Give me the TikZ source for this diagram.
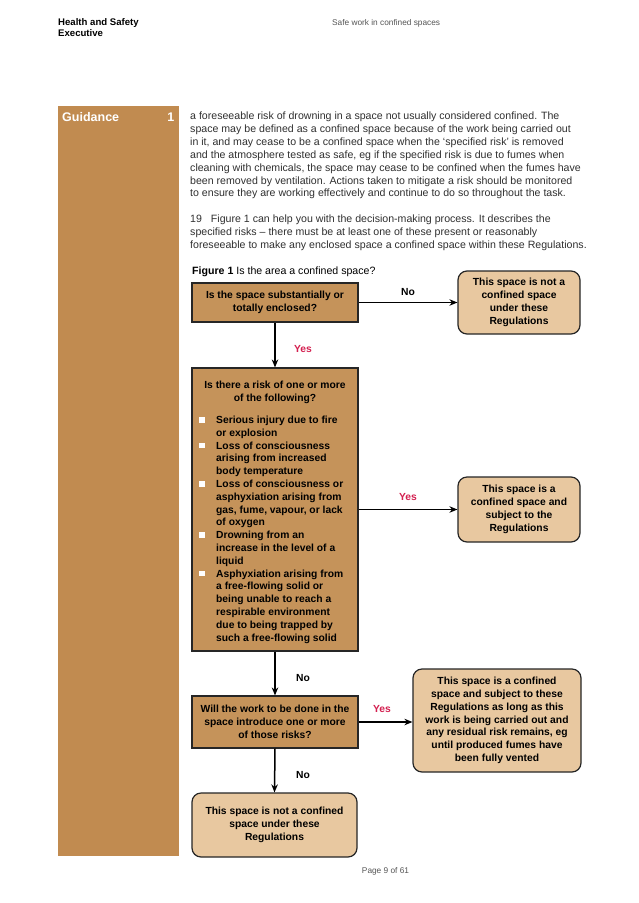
\documentclass[tikz,border=0pt]{standalone}
\usepackage{fontspec}
\setmainfont{Liberation Sans}
\usetikzlibrary{arrows.meta}
\definecolor{side}{HTML}{C18B50}
\definecolor{darkbox}{HTML}{C5935A}
\definecolor{lightbox}{HTML}{E8C8A0}
\definecolor{yesred}{HTML}{D42050}
\definecolor{bodytext}{HTML}{303030}
\definecolor{headgray}{HTML}{555555}
\definecolor{edge}{HTML}{262626}
\begin{document}
\begin{tikzpicture}[x=1pt,y=-1pt,
  qbox/.style={draw=edge, line width=1.2pt, fill=darkbox, inner sep=0pt, align=center,
    font=\fontsize{10.3}{12.8}\selectfont\bfseries},
  rbox/.style={qbox, fill=lightbox, rounded corners=9pt},
  flow/.style={-{Stealth[length=8pt,width=6.5pt]}, line width=1.5pt},
  yeslab/.style={text=yesred, inner sep=0pt, font=\fontsize{10.3}{12}\selectfont\bfseries},
  nolab/.style={inner sep=0pt, font=\fontsize{10.3}{12}\selectfont\bfseries},
  body/.style={anchor=base west, inner sep=0pt, text=bodytext, font=\fontsize{10.6}{12.9}\selectfont},
  item/.style={anchor=base west, inner sep=0pt, font=\fontsize{10.3}{12.8}\selectfont\bfseries},
  bul/.style={fill=white, minimum size=5.5pt, inner sep=0pt},
  small/.style={inner sep=0pt, text=headgray, font=\fontsize{8.3}{10}\selectfont},
]
\useasboundingbox (0,0) rectangle (638,903);
\fill[white] (0,0) rectangle (638,903);

% header
\node[anchor=base west, inner sep=0pt, font=\fontsize{9.6}{11}\selectfont\bfseries] (h1) at (58,25.5) {Health and Safety};
\node[anchor=base west, inner sep=0pt, font=\fontsize{9.6}{11}\selectfont\bfseries] (h2) at (58,36.5) {Executive};
\node[small, anchor=base west] (h3) at (332,25) {Safe work in confined spaces};

% sidebar
\node[fill=side, minimum width=121pt, minimum height=750pt, inner sep=0pt, anchor=north west] (sidebar) at (58,106) {};
\node[anchor=base west, inner sep=0pt, text=white, font=\fontsize{12.5}{14}\selectfont\bfseries] (guid) at (62,121.5) {Guidance};
\node[anchor=base east, inner sep=0pt, text=white, font=\fontsize{12.5}{14}\selectfont\bfseries] (gnum) at (174.5,121.5) {1};

% body text
\node[body] (pa1) at (190,119.5) {a foreseeable risk of drowning in a space not usually considered confined. The};
\node[body] (pa2) at (190,132.4) {space may be defined as a confined space because of the work being carried out};
\node[body] (pa3) at (190,145.3) {in it, and may cease to be a confined space when the ‘specified risk’ is removed};
\node[body] (pa4) at (190,158.2) {and the atmosphere tested as safe, eg if the specified risk is due to fumes when};
\node[body] (pa5) at (190,171.1) {cleaning with chemicals, the space may cease to be confined when the fumes have};
\node[body] (pa6) at (190,184.0) {been removed by ventilation. Actions taken to mitigate a risk should be monitored};
\node[body] (pa7) at (190,196.9) {to ensure they are working effectively and continue to do so throughout the task.};
\node[body] (pb1) at (190,222.7) {19\hspace{9pt}Figure 1 can help you with the decision-making process. It describes the};
\node[body] (pb2) at (190,235.6) {specified risks – there must be at least one of these present or reasonably};
\node[body] (pb3) at (190,248.5) {foreseeable to make any enclosed space a confined space within these Regulations.};
\node[body, text=black] (cap) at (192,274.3) {\textbf{Figure 1} Is the area a confined space?};

% flowchart boxes
\node[qbox, minimum width=166pt, minimum height=39pt] (b1) at (275,302.5) {Is the space substantially or\\totally enclosed?};
\node[rbox, minimum width=122pt, minimum height=63pt] (b2) at (519,302.5) {This space is not a\\confined space\\under these\\Regulations};
\node[qbox, minimum width=166pt, minimum height=283pt] (b3) at (275,509.5) {};
\node[rbox, minimum width=122pt, minimum height=65pt] (b4) at (519,509.5) {This space is a\\confined space and\\subject to the\\Regulations};
\node[qbox, minimum width=166pt, minimum height=52pt] (b5) at (275,722) {Will the work to be done in the\\space introduce one or more\\of those risks?};
\node[rbox, minimum width=168pt, minimum height=103pt] (b6) at (497,720.5) {This space is a confined\\space and subject to these\\Regulations as long as this\\work is being carried out and\\any residual risk remains, eg\\until produced fumes have\\been fully vented};
\node[rbox, minimum width=165pt, minimum height=64pt] (b7) at (274.5,825) {This space is not a confined\\space under these\\Regulations};

% contents of box 3
\node[item, anchor=base] (q1) at (275,388.5) {Is there a risk of one or more};
\node[item, anchor=base] (q2) at (275,401.3) {of the following?};
\foreach \t [count=\i] in {
  {Serious injury due to fire},
  {or explosion},
  {Loss of consciousness},
  {arising from increased},
  {body temperature},
  {Loss of consciousness or},
  {asphyxiation arising from},
  {gas, fume, vapour, or lack},
  {of oxygen},
  {Drowning from an},
  {increase in the level of a},
  {liquid},
  {Asphyxiation arising from},
  {a free-flowing solid or},
  {being unable to reach a},
  {respirable environment},
  {due to being trapped by},
  {such a free-flowing solid}}
  \node[item] (li\i) at (216,{423.5+(\i-1)*12.8}) {\t};
\foreach \i in {1,3,6,10,13}
  \node[bul] (bu\i) at (202,{420+(\i-1)*12.8}) {};

% connectors
\draw[flow] (b1.east) -- (b2.west);
\draw[flow] (b1.south) -- (b3.north);
\draw[flow] (b3.east) -- (b4.west);
\draw[flow] (b3.south) -- (b5.north);
\draw[flow] (b5.east) -- (b5.east -| b6.west);
\draw[flow] (b5.south) -- (b7.north);

% labels
\node[nolab] (n1) at (408,292) {No};
\node[yeslab] (y1) at (303,349) {Yes};
\node[yeslab] (y2) at (408,497) {Yes};
\node[nolab] (n2) at (303,678) {No};
\node[yeslab] (y3) at (382,709) {Yes};
\node[nolab] (n3) at (303,775) {No};

% footer
\node[small, anchor=base] (page) at (385.5,873) {Page 9 of 61};
\end{tikzpicture}
\end{document}
